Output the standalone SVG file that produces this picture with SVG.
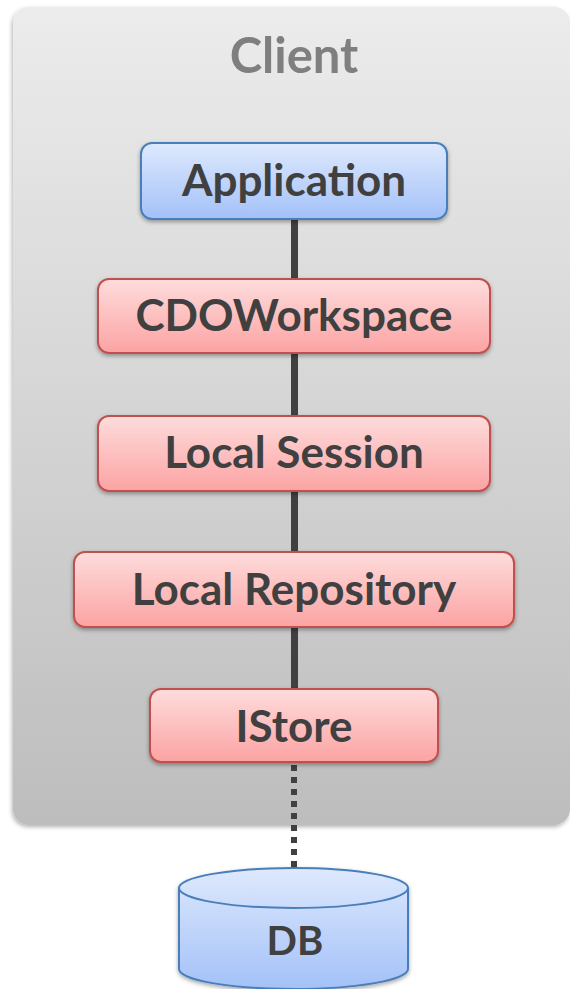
<svg xmlns="http://www.w3.org/2000/svg" width="570" height="989" viewBox="0 0 570 989">
  <defs>
    <linearGradient id="gCont" x1="0" y1="0" x2="0" y2="1">
      <stop offset="0" stop-color="#ececec"/>
      <stop offset="1" stop-color="#bdbdbd"/>
    </linearGradient>
    <linearGradient id="gBlue" x1="0" y1="0" x2="0" y2="1">
      <stop offset="0" stop-color="#dee9fd"/>
      <stop offset="1" stop-color="#a3c1f8"/>
    </linearGradient>
    <linearGradient id="gRed" x1="0" y1="0" x2="0" y2="1">
      <stop offset="0" stop-color="#fedcdc"/>
      <stop offset="1" stop-color="#fca3a3"/>
    </linearGradient>
    <filter id="shadow" x="-10%" y="-10%" width="120%" height="130%">
      <feDropShadow dx="0" dy="2" stdDeviation="2" flood-color="#000" flood-opacity="0.35"/>
    </filter>
    <filter id="shadowC" x="-5%" y="-5%" width="110%" height="110%">
      <feDropShadow dx="-1" dy="2" stdDeviation="2" flood-color="#000" flood-opacity="0.3"/>
    </filter>
  </defs>
  <style>
    .lbl { font-family: Lato, "Liberation Sans", sans-serif; font-weight: bold; font-size: 44px; fill: #404040; text-anchor: middle; }
    .title { font-family: Lato, "Liberation Sans", sans-serif; font-weight: bold; font-size: 49px; fill: #7f7f7f; text-anchor: middle; }
    .blue { fill: url(#gBlue); stroke: #4a7ebb; stroke-width: 2; filter: url(#shadow); }
    .red { fill: url(#gRed); stroke: #c0504d; stroke-width: 2; filter: url(#shadow); }
    .conn { stroke: #404040; stroke-width: 7; fill: none; }
    .dotted { stroke: #404040; stroke-width: 6; stroke-dasharray: 6 6; fill: none; }
  </style>

  <g id="client">
    <rect x="13" y="7" width="557" height="818" rx="16" ry="16" fill="url(#gCont)" filter="url(#shadowC)"/>
    <text class="title" x="294" y="73">Client</text>
  </g>

  <g id="connectors">
    <line class="conn" x1="294.5" y1="219" x2="294.5" y2="279"/>
    <line class="conn" x1="294.5" y1="353" x2="294.5" y2="416"/>
    <line class="conn" x1="294.5" y1="491" x2="294.5" y2="552"/>
    <line class="conn" x1="294.5" y1="627" x2="294.5" y2="689"/>
    <line class="dotted" x1="294" y1="765" x2="294" y2="868"/>
  </g>

  <g id="application">
    <rect class="blue" x="141" y="143" width="306" height="76" rx="11" ry="11"/>
    <text class="lbl" x="294" y="196">Application</text>
  </g>

  <g id="cdoworkspace">
    <rect class="red" x="98" y="279" width="392" height="74" rx="11" ry="11"/>
    <text class="lbl" x="294" y="331">CDOWorkspace</text>
  </g>

  <g id="localsession">
    <rect class="red" x="98" y="416" width="392" height="75" rx="11" ry="11"/>
    <text class="lbl" x="294" y="468">Local Session</text>
  </g>

  <g id="localrepository">
    <rect class="red" x="74" y="552" width="440" height="75" rx="11" ry="11"/>
    <text class="lbl" x="294" y="605">Local Repository</text>
  </g>

  <g id="istore">
    <rect class="red" x="150" y="689" width="288" height="73" rx="11" ry="11"/>
    <text class="lbl" x="294" y="742">IStore</text>
  </g>

  <g id="db">
    <path d="M179,888 L179,969 A114.5,20 0 0 0 408,969 L408,888 A114.5,20 0 0 0 179,888 Z" fill="url(#gBlue)" stroke="#4a7ebb" stroke-width="2" filter="url(#shadow)"/>
    <path d="M179,888 A114.5,20 0 0 0 408,888" fill="none" stroke="#4a7ebb" stroke-width="2"/>
    <text class="lbl" x="295" y="955" style="font-size:40px">DB</text>
  </g>
</svg>
